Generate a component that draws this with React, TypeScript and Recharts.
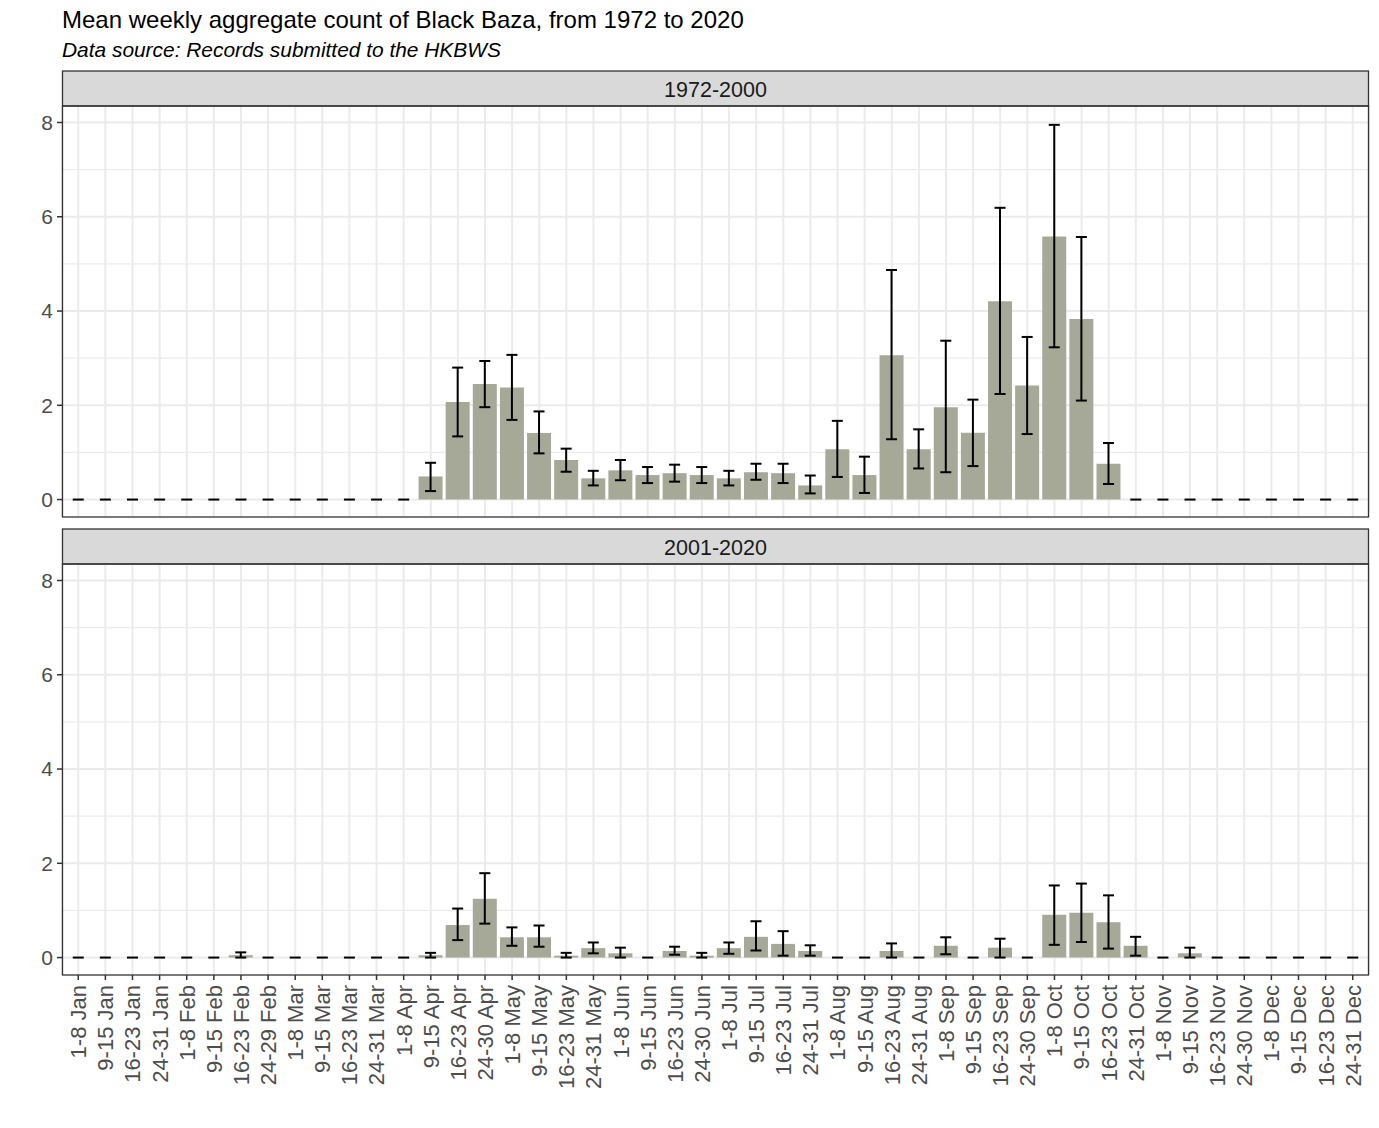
import React from "react";
import { ComposedChart, Bar, Line, XAxis, YAxis, CartesianGrid, ErrorBar } from "recharts";

const weeks = [
  "1-8 Jan", "9-15 Jan", "16-23 Jan", "24-31 Jan",
  "1-8 Feb", "9-15 Feb", "16-23 Feb", "24-29 Feb",
  "1-8 Mar", "9-15 Mar", "16-23 Mar", "24-31 Mar",
  "1-8 Apr", "9-15 Apr", "16-23 Apr", "24-30 Apr",
  "1-8 May", "9-15 May", "16-23 May", "24-31 May",
  "1-8 Jun", "9-15 Jun", "16-23 Jun", "24-30 Jun",
  "1-8 Jul", "9-15 Jul", "16-23 Jul", "24-31 Jul",
  "1-8 Aug", "9-15 Aug", "16-23 Aug", "24-31 Aug",
  "1-8 Sep", "9-15 Sep", "16-23 Sep", "24-30 Sep",
  "1-8 Oct", "9-15 Oct", "16-23 Oct", "24-31 Oct",
  "1-8 Nov", "9-15 Nov", "16-23 Nov", "24-30 Nov",
  "1-8 Dec", "9-15 Dec", "16-23 Dec", "24-31 Dec",
];

// 1972-2000
const mean1 = [
  0, 0, 0, 0, 0, 0, 0, 0, 0, 0, 0, 0,
  0, 0.49, 2.07, 2.45, 2.38, 1.41, 0.84, 0.45, 0.62, 0.52, 0.56, 0.52,
  0.45, 0.58, 0.56, 0.3, 1.07, 0.52, 3.06, 1.07, 1.96, 1.42, 4.21, 2.42,
  5.58, 3.83, 0.76, 0, 0, 0, 0, 0, 0, 0, 0, 0,
];
const low1 = [
  0, 0, 0, 0, 0, 0, 0, 0, 0, 0, 0, 0,
  0, 0.18, 1.34, 1.96, 1.69, 0.98, 0.59, 0.3, 0.41, 0.35, 0.38, 0.35,
  0.3, 0.42, 0.35, 0.13, 0.48, 0.14, 1.28, 0.66, 0.58, 0.71, 2.24, 1.39,
  3.23, 2.1, 0.33, 0, 0, 0, 0, 0, 0, 0, 0, 0,
];
const high1 = [
  0, 0, 0, 0, 0, 0, 0, 0, 0, 0, 0, 0,
  0, 0.78, 2.8, 2.94, 3.07, 1.87, 1.08, 0.61, 0.84, 0.69, 0.74, 0.69,
  0.61, 0.76, 0.76, 0.51, 1.67, 0.91, 4.87, 1.49, 3.37, 2.12, 6.19, 3.45,
  7.95, 5.57, 1.2, 0, 0, 0, 0, 0, 0, 0, 0, 0,
];

// 2001-2020
const mean2 = [
  0, 0, 0, 0, 0, 0, 0.05, 0, 0, 0, 0, 0,
  0, 0.05, 0.69, 1.25, 0.43, 0.43, 0.04, 0.2, 0.09, 0, 0.14, 0.04,
  0.2, 0.44, 0.29, 0.14, 0, 0, 0.14, 0, 0.25, 0, 0.21, 0,
  0.91, 0.95, 0.75, 0.25, 0, 0.09, 0, 0, 0, 0, 0, 0,
];
const low2 = [
  0, 0, 0, 0, 0, 0, 0, 0, 0, 0, 0, 0,
  0, 0, 0.37, 0.72, 0.25, 0.23, 0, 0.09, 0, 0, 0.06, 0,
  0.08, 0.15, 0.04, 0.04, 0, 0, 0, 0, 0.07, 0, 0, 0,
  0.27, 0.33, 0.19, 0.04, 0, 0, 0, 0, 0, 0, 0, 0,
];
const high2 = [
  0, 0, 0, 0, 0, 0, 0.11, 0, 0, 0, 0, 0,
  0, 0.1, 1.04, 1.79, 0.64, 0.68, 0.1, 0.32, 0.21, 0, 0.23, 0.1,
  0.32, 0.77, 0.56, 0.26, 0, 0, 0.3, 0, 0.43, 0, 0.4, 0,
  1.53, 1.57, 1.32, 0.44, 0, 0.21, 0, 0, 0, 0, 0, 0,
];

const yTicks = [0, 2, 4, 6, 8];
const yMinor = [1, 3, 5, 7];

const makeRows = (mean: number[], low: number[], high: number[]) =>
  weeks.map((week, i) => ({
    week,
    mean: mean[i],
    err: [mean[i] - low[i], high[i] - mean[i]],
    // weeks with no records: ggplot draws a flat error bar at 0
    zero: mean[i] === 0 ? 0 : null,
  }));

const rows1 = makeRows(mean1, low1, high1);
const rows2 = makeRows(mean2, low2, high2);

const FONT = '"Liberation Sans", Arial, sans-serif';
const BAR = "#A7A998";
const GRID = "#EBEBEB";

const PLOT_LEFT = 62;
const PLOT_W = 1307;
const PLOT_H = 411;
const TOP1 = 106;
const TOP2 = 564;
const CHART_W = 1379;

const WeekTick = (props: any) => {
  const { x, y, payload } = props;
  return (
    <text
      transform={`translate(${x},${y + 1}) rotate(-90)`}
      textAnchor="end"
      dy="0.36em"
      fontSize={22}
      fill="#4D4D4D"
      fontFamily={FONT}
    >
      {payload.value}
    </text>
  );
};

const ZeroDash = (props: any) => {
  const { cx, cy, payload } = props;
  if (payload.zero == null || cx == null || cy == null) return <g />;
  return <line x1={cx - 5.5} x2={cx + 5.5} y1={cy} y2={cy} stroke="#000000" strokeWidth={2} />;
};

function Panel({ rows, showX }: { rows: any[]; showX: boolean }) {
  return (
    <ComposedChart
      width={CHART_W}
      height={showX ? PLOT_H + 140 : PLOT_H}
      data={rows}
      margin={{ top: 0, right: CHART_W - PLOT_LEFT - PLOT_W, bottom: 0, left: 0 }}
      barCategoryGap="5%"
    >
      <CartesianGrid horizontalValues={yMinor} vertical={false} stroke={GRID} strokeWidth={1.2} />
      <CartesianGrid horizontalValues={yTicks} stroke={GRID} strokeWidth={2} />
      <XAxis
        dataKey="week"
        interval={0}
        padding={{ left: 2.7, right: 2.7 }}
        hide={!showX}
        height={140}
        axisLine={false}
        tickLine={{ stroke: "#333333", strokeWidth: 1.5 }}
        tickSize={5}
        tickMargin={4}
        tick={<WeekTick />}
      />
      <YAxis
        width={PLOT_LEFT}
        domain={[-0.37, 8.35]}
        ticks={yTicks}
        allowDataOverflow
        axisLine={false}
        tickLine={{ stroke: "#333333", strokeWidth: 1.5 }}
        tickSize={5}
        tickMargin={4}
        tick={{ fontSize: 21, fill: "#4D4D4D", fontFamily: FONT }}
      />
      <Bar dataKey="mean" fill={BAR} isAnimationActive={false}>
        <ErrorBar dataKey="err" width={5.5} stroke="#000000" strokeWidth={2} />
      </Bar>
      <Line
        dataKey="zero"
        stroke="none"
        dot={<ZeroDash />}
        activeDot={false}
        legendType="none"
        isAnimationActive={false}
      />
    </ComposedChart>
  );
}

export default function App() {
  return (
    <div
      style={{
        position: "absolute",
        left: 0,
        top: 0,
        width: 1379,
        height: 1128,
        background: "#ffffff",
        fontFamily: FONT,
      }}
    >
      <div style={{ position: "absolute", left: 0, top: TOP1 }}>
        <Panel rows={rows1} showX={false} />
      </div>
      <div style={{ position: "absolute", left: 0, top: TOP2 }}>
        <Panel rows={rows2} showX={true} />
      </div>
      <svg
        width={1379}
        height={1128}
        style={{ position: "absolute", left: 0, top: 0, pointerEvents: "none" }}
      >
        <text x={62} y={28} fontSize={24} fill="#000000" fontFamily={FONT}>
          Mean weekly aggregate count of Black Baza, from 1972 to 2020
        </text>
        <text x={62} y={57} fontSize={20.9} fontStyle="italic" fill="#000000" fontFamily={FONT}>
          Data source: Records submitted to the HKBWS
        </text>
        {[
          { label: "1972-2000", top: TOP1 },
          { label: "2001-2020", top: TOP2 },
        ].map((p) => (
          <g key={p.label}>
            <rect
              x={PLOT_LEFT + 0.5}
              y={p.top - 35}
              width={PLOT_W - 1}
              height={35}
              fill="#D9D9D9"
              stroke="#333333"
              strokeWidth={1.3}
            />
            <text
              x={PLOT_LEFT + PLOT_W / 2}
              y={p.top - 9}
              textAnchor="middle"
              fontSize={21.5}
              fill="#1A1A1A"
              fontFamily={FONT}
            >
              {p.label}
            </text>
            <rect
              x={PLOT_LEFT + 0.5}
              y={p.top}
              width={PLOT_W - 1}
              height={PLOT_H}
              fill="none"
              stroke="#333333"
              strokeWidth={1.3}
            />
          </g>
        ))}
      </svg>
    </div>
  );
}
